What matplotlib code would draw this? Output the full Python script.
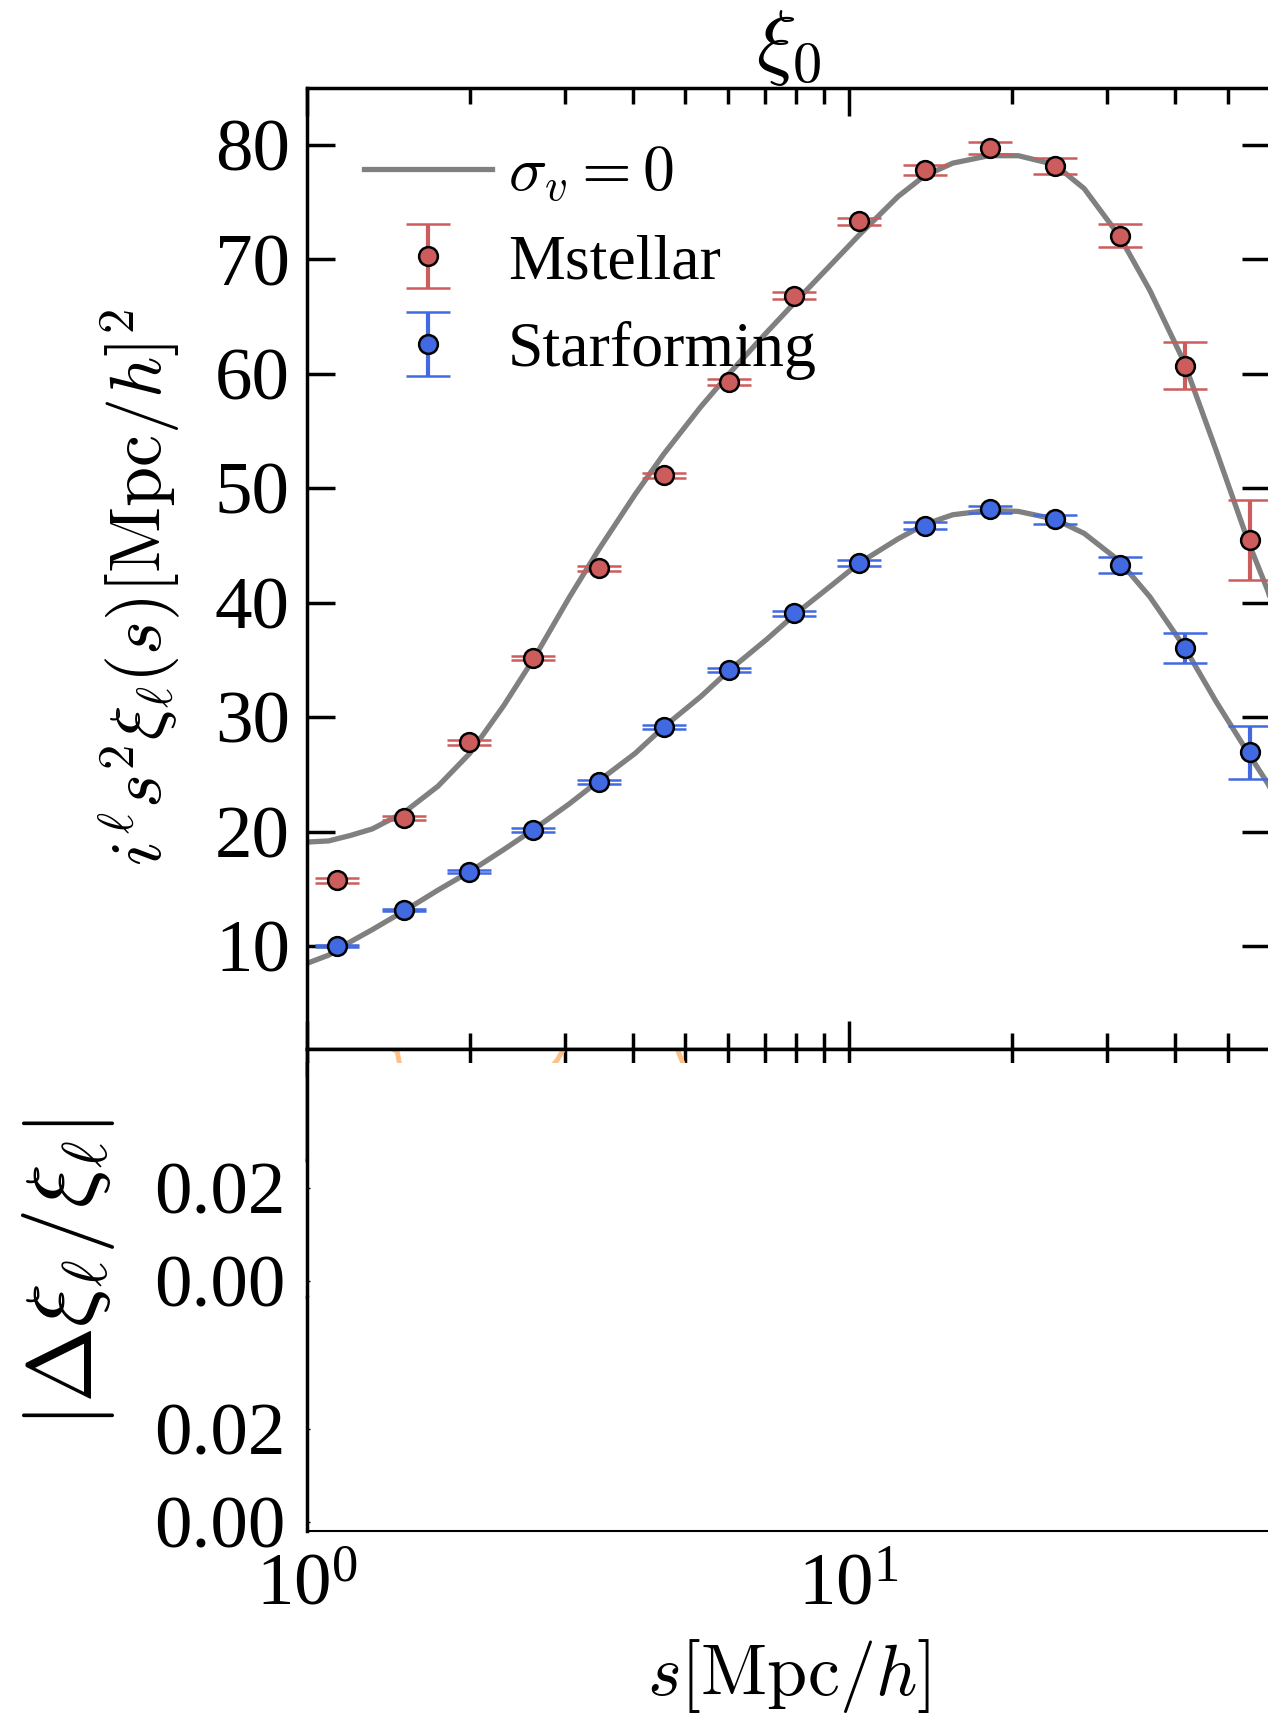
import matplotlib
matplotlib.use("Agg")
import matplotlib.pyplot as plt
from matplotlib.ticker import NullFormatter, FixedLocator

plt.rcParams['font.family'] = 'serif'
plt.rcParams['font.serif'] = ['Liberation Serif', 'DejaVu Serif']
plt.rcParams['mathtext.fontset'] = 'cm'

# measured separations (Mpc/h)
s_bins = [1.14, 1.51, 1.99, 2.62, 3.46, 4.56, 6.01, 7.93, 10.45, 13.8, 18.2, 24.0, 31.6, 41.7, 55.0]

mstellar = [15.74, 21.19, 27.79, 35.15, 42.99, 51.12, 59.25, 66.80, 73.31, 77.80, 79.71, 78.18, 72.06, 60.68, 45.48]
mstellar_err = [0.2, 0.2, 0.2, 0.2, 0.25, 0.25, 0.25, 0.3, 0.3, 0.4, 0.5, 0.7, 1.0, 2.05, 3.5]

starforming = [10.0, 13.16, 16.50, 20.14, 24.34, 29.13, 34.10, 39.07, 43.47, 46.72, 48.16, 47.30, 43.28, 36.01, 26.93]
starforming_err = [0.1, 0.1, 0.1, 0.15, 0.15, 0.15, 0.2, 0.2, 0.25, 0.3, 0.3, 0.4, 0.7, 1.3, 2.3]

# model curves (sigma_v = 0)
s_model = [1.000, 1.098, 1.205, 1.322, 1.513, 1.747, 2.000, 2.310, 2.632, 3.054, 3.462, 4.037,
           4.557, 5.337, 6.024, 7.055, 7.962, 9.326, 10.47, 12.33, 13.79, 15.56, 18.14, 20.56,
           23.98, 27.19, 31.55, 35.94, 41.52, 47.53, 54.63, 59.39, 62.0]
model_mstellar = [19.08, 19.18, 19.66, 20.23, 21.67, 23.96, 26.83, 31.00, 35.20, 40.48, 44.67, 49.46,
                  52.97, 57.12, 60.03, 63.60, 66.25, 69.65, 72.15, 75.48, 77.28, 78.40, 79.05, 79.05,
                  78.28, 76.18, 72.06, 67.28, 61.07, 53.42, 45.29, 40.98, 38.0]
model_starforming = [8.47, 9.20, 10.37, 11.43, 13.06, 14.88, 16.50, 18.42, 20.23, 22.43, 24.44, 26.83,
                     29.13, 31.80, 34.10, 36.78, 38.98, 41.56, 43.47, 45.57, 46.82, 47.68, 48.06, 47.97,
                     47.30, 46.05, 43.66, 40.51, 36.20, 31.42, 26.83, 24.15, 22.5]

# residual curve fragments peeking out under the top panel
s_resid = [1.20, 1.47, 1.49, 1.75, 2.60, 2.90, 3.00, 3.60, 4.60, 4.85, 5.00, 6.00, 50.0]
resid = [3.0, 0.8, -0.5, -2.0, -2.0, 0.2, 1.2, 3.0, 3.0, 0.8, -0.5, -2.0, -2.0]

W, H = 1268, 1717


def rect(x0, y0, x1, y1):
    return [x0 / W, 1 - y1 / H, (x1 - x0) / W, (y1 - y0) / H]


fig = plt.figure(figsize=(W / 100, H / 100), dpi=100)

ax = fig.add_axes(rect(306.6, 87.6, 1270.5, 1049))
band = fig.add_axes(rect(306.6, 1049, 1270.5, 1160))
res1 = fig.add_axes(rect(306.6, 1063, 1270.5, 1297))
res2 = fig.add_axes(rect(306.6, 1297, 1270.5, 1531))

red = '#cd5c5c'
blue = '#4169e1'

ax.plot(s_model, model_mstellar, color='gray', lw=3.8, label=r'$\sigma_v = 0$', zorder=2)
ax.plot(s_model, model_starforming, color='gray', lw=3.8, zorder=2)
ax.errorbar(s_bins, mstellar, yerr=mstellar_err, fmt='o', color=red, mec='k', mew=1.8, ms=13.5,
            elinewidth=3, capsize=16, capthick=2, label='Mstellar', zorder=3)
ax.errorbar(s_bins, starforming, yerr=starforming_err, fmt='o', color=blue, mec='k', mew=1.8, ms=13.5,
            elinewidth=3, capsize=16, capthick=2, label='Starforming', zorder=3)

for a in (ax, band, res1, res2):
    a.set_xscale('log')
    a.set_xlim(1, 60)

ax.set_ylim(1, 85)
ax.set_yticks([10, 20, 30, 40, 50, 60, 70, 80])
ax.tick_params(axis='both', which='both', direction='in', top=True, right=True, labelsize=54, pad=12)
ax.tick_params(axis='both', which='major', length=20, width=2.5)
ax.tick_params(axis='both', which='minor', length=11.5, width=2.5)
ax.tick_params(axis='x', labelbottom=False)
for sp in ax.spines.values():
    sp.set_linewidth(2.5)
ax.set_title(r'$\xi_0$', fontsize=60, pad=6)
ax.set_ylabel(r'$i^\ell s^2 \xi_\ell(s) [\mathrm{Mpc}/h]^2$', fontsize=52)
ax.yaxis.set_label_coords(-0.128, 0.48)

ax.legend(loc='upper left', frameon=False, fontsize=46, handlelength=2.0, labelspacing=0.45,
          borderaxespad=0.5, handletextpad=0.25, numpoints=1)

band.plot(s_resid, resid, color='#fdc086', lw=3.5)
band.set_ylim(-7, 1)
band.tick_params(axis='x', which='both', direction='in', top=True, bottom=False, labelbottom=False,
                 length=20, width=2.5)
band.set_yticks([])
for sp in band.spines.values():
    sp.set_linewidth(2.5)

for r, lim in ((res1, (-0.00344, 0.04688)), (res2, (-0.00194, 0.0484))):
    r.set_facecolor('white')
    r.set_ylim(*lim)
    r.set_yticks([0.0, 0.02])
    r.set_yticklabels(['0.00', '0.02'])
    r.tick_params(axis='y', which='both', direction='in', length=2, width=1, labelsize=54, pad=15)
    r.spines['top'].set_visible(False)
    r.spines['right'].set_visible(False)
    r.spines['left'].set_linewidth(2.5)
    r.xaxis.set_minor_formatter(NullFormatter())

res1.spines['bottom'].set_visible(False)
res1.tick_params(axis='x', which='both', length=0, labelbottom=False)
res2.spines['bottom'].set_linewidth(1.5)
res2.xaxis.set_major_locator(FixedLocator([1, 10]))
res2.tick_params(axis='x', which='both', length=0, labelsize=54, pad=16)
res2.set_xlabel(r'$s[\mathrm{Mpc}/h]$', fontsize=52, labelpad=12)

fig.text(0.054, 1 - 1273 / H, r'$|\Delta\xi_\ell/\xi_\ell|$', rotation=90, fontsize=66,
         ha='center', va='center')

fig.savefig('out.png', dpi=100)
